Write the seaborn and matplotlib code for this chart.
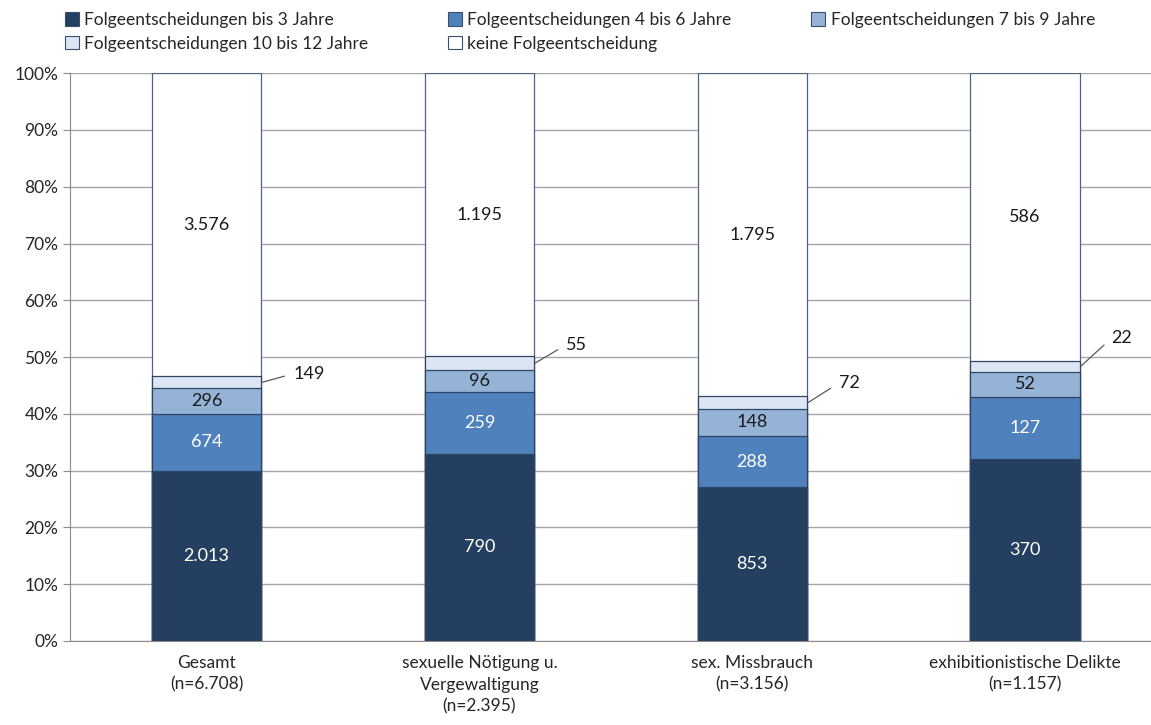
import numpy as np
import pandas as pd
import seaborn as sns
import matplotlib.pyplot as plt
from matplotlib.patches import Patch

# categories and counts per level (bottom to top)
categories = ["Gesamt\n(n=6.708)", "sexuelle Nötigung u.\nVergewaltigung\n(n=2.395)",
              "sex. Missbrauch\n(n=3.156)", "exhibitionistische Delikte\n(n=1.157)"]
levels = ["Folgeentscheidungen bis 3 Jahre", "Folgeentscheidungen 4 bis 6 Jahre",
          "Folgeentscheidungen 7 bis 9 Jahre", "Folgeentscheidungen 10 bis 12 Jahre",
          "keine Folgeentscheidung"]
bis_3 = [2013, 790, 853, 370]
bis_6 = [674, 259, 288, 127]
bis_9 = [296, 96, 148, 52]
bis_12 = [149, 55, 72, 22]
keine = [3576, 1195, 1795, 586]

colors = ["#243F60", "#4F81BD", "#95B3D7", "#DCE6F2", "#FFFFFF"]
text_colors = ["white", "white", "#1a1a1a", "#1a1a1a", "#1a1a1a"]
# offset (points) of the leader-line labels for the 10-12 years segment
callout_dy = [6, 13, 14, 20]

counts = pd.DataFrame([bis_3, bis_6, bis_9, bis_12, keine], index=levels, columns=categories).T
pct = counts.div(counts.sum(axis=1), axis=0) * 100
cum = pct.cumsum(axis=1)

sns.set_style("white")
plt.rcParams['font.family'] = ['Lato', 'DejaVu Sans']

fig = plt.figure(figsize=(11.51, 7.25), dpi=100)
ax = fig.add_axes([0.061, 0.116, 0.948, 0.783])

# draw cumulative bars from the top down so the lower ones overlay
for i in range(len(levels) - 1, -1, -1):
    df = pd.DataFrame({"cat": categories, "val": cum[levels[i]].values})
    sns.barplot(data=df, x="cat", y="val", color=colors[i], saturation=1, width=0.4,
                edgecolor="#2E4565" if i < 4 else "#4A6389", linewidth=0.9,
                errorbar=None, ax=ax, zorder=3)

def fmt(v):
    return f"{v:,}".replace(",", ".")

for j, cat in enumerate(categories):
    for i, lev in enumerate(levels):
        top = cum.loc[cat, lev]
        mid = top - pct.loc[cat, lev] / 2
        label = fmt(counts.loc[cat, lev])
        if i == 3:
            ax.annotate(label, xy=(j + 0.205, mid), xytext=(22, callout_dy[j]),
                        textcoords="offset points", ha="left", va="center",
                        fontsize=13, color="#1a1a1a",
                        arrowprops=dict(arrowstyle="-", color="#595959", lw=0.9,
                                        shrinkA=4, shrinkB=0, relpos=(0, 0.5)))
        else:
            ax.text(j, mid, label, ha="center", va="center", fontsize=13,
                    color=text_colors[i], zorder=4)

ax.set_xlim(-0.5, 3.5)
ax.set_ylim(0, 100)
ax.set_yticks(np.arange(0, 101, 10))
ax.set_yticklabels([f"{v}%" for v in range(0, 101, 10)], fontsize=12.5)
ax.yaxis.grid(True, color="#A6A6A6", lw=1, zorder=0)
ax.set_axisbelow(True)
ax.set_xlabel("")
ax.set_ylabel("")
ax.set_xticklabels(categories, fontsize=12.5, linespacing=1.45)
ax.tick_params(axis="x", which="major", length=0, pad=10)
ax.set_xticks([0.5, 1.5, 2.5], minor=True)
ax.tick_params(axis="x", which="minor", length=32, color="#8C8C8C", width=1)
ax.tick_params(axis="y", length=5, color="#8C8C8C", left=True)
for s in ["top", "right"]:
    ax.spines[s].set_visible(False)
for s in ["left", "bottom"]:
    ax.spines[s].set_color("#8C8C8C")

# legend fills column by column; reorder so it reads row by row
order = [0, 3, 1, 4, 2]
handles = [Patch(facecolor=colors[k], edgecolor="#3B4E6B", lw=0.8) for k in order]
fig.legend(handles, [levels[k] for k in order], loc="upper left",
           bbox_to_anchor=(0.043, 1.005), ncol=3,
           frameon=False, fontsize=12.5, handlelength=0.8, handleheight=0.8,
           handletextpad=0.3, columnspacing=4.6, labelspacing=0.45)

fig.savefig("out.png", dpi=100)
